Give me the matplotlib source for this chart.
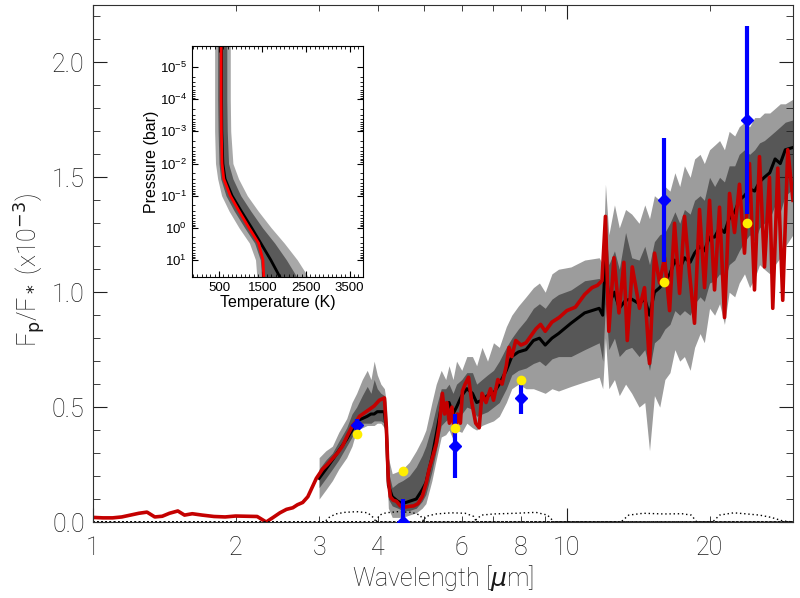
import numpy as np
import matplotlib
matplotlib.use('Agg')
import matplotlib.pyplot as plt
from matplotlib.ticker import FixedLocator, NullFormatter, MultipleLocator, LogFormatterSciNotation

# ---- best-fit model spectrum (red) ----
red_wl = [1.00, 1.05, 1.10, 1.15, 1.20, 1.25, 1.30, 1.35, 1.40, 1.45, 1.51, 1.56, 1.62, 1.70,
          1.80, 1.90, 2.00, 2.10, 2.22, 2.27, 2.32, 2.40, 2.48, 2.56, 2.64, 2.70, 2.77, 2.84,
          2.90, 2.96, 3.05, 3.12, 3.20, 3.28, 3.36, 3.45, 3.53, 3.60, 3.65, 3.74, 3.83, 3.92,
          4.02, 4.12, 4.16, 4.20, 4.24, 4.30, 4.37, 4.45, 4.55, 4.65, 4.75, 4.85, 4.95, 5.05,
          5.12, 5.22, 5.30, 5.38, 5.46, 5.52, 5.58, 5.65, 5.72, 5.80, 5.88, 5.96, 6.02, 6.10,
          6.20, 6.30, 6.42, 6.53, 6.62, 6.75, 6.90, 7.00, 7.15, 7.30, 7.45, 7.55, 7.65, 7.80,
          8.00, 8.20, 8.40, 8.60, 8.80, 9.00, 9.30, 9.63, 10.0, 10.42, 10.9, 11.30, 11.60, 11.86,
          12.06, 12.26, 12.57, 12.88, 13.19, 13.41, 13.74, 14.23, 14.58, 14.94, 15.31, 15.69,
          16.07, 16.47, 16.87, 17.29, 17.71, 18.15, 18.59, 19.05, 19.52, 20.00, 20.49, 20.99,
          21.51, 22.04, 22.58, 23.13, 23.70, 24.28, 24.88, 25.49, 26.12, 26.76, 27.19, 27.86,
          28.54, 29.25, 30.0]
red_fp = [0.020, 0.018, 0.018, 0.022, 0.030, 0.038, 0.043, 0.022, 0.025, 0.038, 0.048, 0.030,
          0.036, 0.030, 0.024, 0.022, 0.026, 0.025, 0.024, 0.012, 0.000, 0.020, 0.040, 0.055,
          0.062, 0.075, 0.085, 0.110, 0.150, 0.190, 0.230, 0.250, 0.275, 0.300, 0.330, 0.380,
          0.420, 0.440, 0.460, 0.475, 0.490, 0.505, 0.530, 0.540, 0.410, 0.180, 0.110, 0.095,
          0.090, 0.070, 0.065, 0.068, 0.070, 0.080, 0.110, 0.170, 0.230, 0.290, 0.340, 0.420,
          0.560, 0.470, 0.520, 0.430, 0.500, 0.370, 0.470, 0.430, 0.570, 0.600, 0.630, 0.520,
          0.430, 0.410, 0.560, 0.520, 0.580, 0.530, 0.620, 0.600, 0.680, 0.760, 0.720, 0.790,
          0.770, 0.780, 0.810, 0.840, 0.860, 0.830, 0.870, 0.890, 0.920, 0.935, 0.990, 1.020,
          1.030, 1.050, 1.330, 0.830, 1.150, 0.910, 1.130, 0.790, 1.110, 0.930, 1.020, 0.690,
          1.170, 1.040, 1.150, 0.920, 1.300, 0.995, 1.330, 1.080, 0.865, 1.360, 1.020, 1.400,
          1.010, 1.370, 0.890, 1.430, 1.260, 1.470, 1.170, 1.560, 1.010, 1.590, 1.110, 1.500,
          0.930, 1.540, 0.965, 1.620, 1.400]

# ---- retrieval median and 1/2 sigma envelopes ----
band_wl = [3.00, 3.10, 3.20, 3.30, 3.43, 3.52, 3.60, 3.70, 3.79, 3.86, 3.92, 3.98, 4.05, 4.12,
           4.16, 4.20, 4.28, 4.40, 4.50, 4.65, 4.81, 4.95, 5.04, 5.19, 5.30, 5.43, 5.55, 5.64,
           5.75, 5.85, 6.00, 6.15, 6.32, 6.45, 6.62, 6.80, 7.00, 7.20, 7.45, 7.65, 7.90, 8.20,
           8.50, 8.75, 9.00, 9.30, 9.60, 10.2, 10.9, 11.7, 11.9, 12.06, 12.26, 12.6, 12.9, 13.3,
           13.7, 14.2, 14.6, 14.94, 15.3, 15.7, 16.1, 16.5, 16.9, 17.3, 17.7, 18.2, 18.6, 19.1,
           19.5, 20.0, 20.5, 21.0, 21.5, 22.0, 22.6, 23.1, 23.7, 24.3, 24.9, 25.5, 26.1, 26.8,
           27.5, 28.2, 28.9, 30.0]
med = [0.19, 0.23, 0.27, 0.31, 0.36, 0.40, 0.44, 0.45, 0.46, 0.47, 0.47, 0.48, 0.48, 0.48,
       0.40, 0.16, 0.11, 0.09, 0.08, 0.09, 0.10, 0.14, 0.17, 0.28, 0.38, 0.50, 0.48, 0.52,
       0.47, 0.50, 0.55, 0.58, 0.56, 0.52, 0.53, 0.55, 0.56, 0.60, 0.66, 0.72, 0.74, 0.75,
       0.79, 0.80, 0.77, 0.80, 0.82, 0.865, 0.91, 0.93, 0.90, 1.15, 0.95, 1.00, 0.93, 0.965,
       0.97, 0.95, 0.97, 0.90, 1.00, 1.02, 1.05, 1.08, 1.14, 1.10, 1.15, 1.13, 1.17, 1.20,
       1.18, 1.24, 1.24, 1.28, 1.26, 1.32, 1.35, 1.40, 1.42, 1.45, 1.44, 1.48, 1.50, 1.52,
       1.58, 1.56, 1.62, 1.63]
lo1 = [0.15, 0.19, 0.23, 0.27, 0.33, 0.37, 0.43, 0.43, 0.43, 0.43, 0.44, 0.44, 0.44, 0.43,
       0.33, 0.10, 0.07, 0.06, 0.05, 0.05, 0.06, 0.09, 0.12, 0.22, 0.31, 0.42, 0.44, 0.45,
       0.42, 0.44, 0.47, 0.50, 0.49, 0.46, 0.47, 0.48, 0.50, 0.52, 0.58, 0.64, 0.66, 0.67,
       0.69, 0.70, 0.68, 0.71, 0.72, 0.72, 0.75, 0.78, 0.70, 0.95, 0.75, 0.80, 0.72, 0.75,
       0.76, 0.72, 0.75, 0.66, 0.78, 0.80, 0.84, 0.86, 0.92, 0.90, 0.92, 0.90, 0.95, 0.98,
       0.96, 1.04, 1.05, 1.08, 1.05, 1.12, 1.14, 1.18, 1.22, 1.25, 1.22, 1.28, 1.30, 1.32,
       1.38, 1.35, 1.42, 1.45]
hi1 = [0.23, 0.27, 0.30, 0.35, 0.41, 0.47, 0.50, 0.55, 0.59, 0.56, 0.62, 0.58, 0.56, 0.55,
       0.48, 0.22, 0.15, 0.17, 0.18, 0.20, 0.24, 0.29, 0.33, 0.42, 0.50, 0.58, 0.58, 0.60,
       0.56, 0.60, 0.62, 0.65, 0.65, 0.60, 0.62, 0.64, 0.66, 0.70, 0.76, 0.80, 0.84, 0.88,
       0.93, 0.95, 0.93, 0.97, 0.99, 1.01, 1.05, 1.06, 1.04, 1.30, 1.12, 1.18, 1.10, 1.26,
       1.15, 1.14, 1.20, 1.12, 1.22, 1.25, 1.26, 1.30, 1.35, 1.30, 1.36, 1.34, 1.40, 1.42,
       1.40, 1.50, 1.46, 1.50, 1.48, 1.55, 1.55, 1.60, 1.62, 1.60, 1.62, 1.65, 1.66, 1.68,
       1.70, 1.72, 1.74, 1.75]
lo2 = [0.10, 0.14, 0.18, 0.23, 0.28, 0.33, 0.40, 0.41, 0.42, 0.42, 0.42, 0.43, 0.43, 0.41,
       0.28, 0.06, 0.02, 0.02, 0.02, 0.03, 0.04, 0.06, 0.08, 0.18, 0.27, 0.37, 0.38, 0.40,
       0.36, 0.40, 0.39, 0.43, 0.41, 0.40, 0.42, 0.43, 0.44, 0.46, 0.52, 0.58, 0.60, 0.58,
       0.58, 0.57, 0.56, 0.58, 0.57, 0.59, 0.61, 0.63, 0.58, 0.80, 0.58, 0.62, 0.55, 0.60,
       0.56, 0.50, 0.52, 0.31, 0.55, 0.50, 0.62, 0.65, 0.75, 0.70, 0.72, 0.66, 0.76, 0.82,
       0.78, 0.93, 0.90, 0.95, 0.86, 1.00, 0.98, 1.04, 1.08, 1.02, 1.06, 1.12, 1.10, 1.08,
       1.12, 1.15, 1.20, 1.25]
hi2 = [0.28, 0.31, 0.33, 0.39, 0.45, 0.52, 0.56, 0.62, 0.66, 0.62, 0.70, 0.64, 0.60, 0.58,
       0.52, 0.28, 0.21, 0.22, 0.23, 0.26, 0.31, 0.36, 0.40, 0.52, 0.60, 0.66, 0.62, 0.68,
       0.62, 0.70, 0.66, 0.72, 0.72, 0.68, 0.76, 0.70, 0.78, 0.76, 0.85, 0.90, 0.94, 0.98,
       1.02, 1.04, 1.00, 1.08, 1.10, 1.11, 1.14, 1.15, 1.12, 1.47, 1.25, 1.38, 1.28, 1.36,
       1.34, 1.30, 1.38, 1.32, 1.42, 1.40, 1.46, 1.44, 1.52, 1.46, 1.55, 1.50, 1.58, 1.60,
       1.56, 1.62, 1.64, 1.66, 1.62, 1.70, 1.68, 1.72, 1.74, 1.72, 1.76, 1.76, 1.78, 1.78,
       1.80, 1.82, 1.82, 1.84]

# ---- Spitzer eclipse depths and binned model ----
obs_wl = [3.6, 4.5, 5.8, 8.0, 16.0, 24.0]
obs_fp = [0.42, 0.00, 0.33, 0.54, 1.40, 1.75]
obs_err = [0.03, 0.10, 0.14, 0.07, 0.27, 0.41]
model_bin = [0.385, 0.22, 0.41, 0.62, 1.045, 1.30]

# ---- filter transmission curves (dotted) ----
filters = {
    'irac1': ([1.0, 3.08, 3.15, 3.25, 3.40, 3.60, 3.80, 3.90, 3.96, 30.0],
              [0.0, 0.0, 0.02, 0.035, 0.042, 0.045, 0.040, 0.020, 0.0, 0.0]),
    'irac2': ([1.0, 3.95, 4.02, 4.15, 4.40, 4.70, 4.90, 5.00, 30.0],
              [0.0, 0.0, 0.03, 0.040, 0.045, 0.042, 0.030, 0.0, 0.0]),
    'irac3': ([1.0, 4.95, 5.05, 5.30, 5.70, 6.10, 6.35, 6.45, 30.0],
              [0.0, 0.0, 0.025, 0.035, 0.040, 0.038, 0.025, 0.0, 0.0]),
    'irac4': ([1.0, 6.35, 6.60, 7.00, 7.80, 8.60, 9.10, 9.40, 30.0],
              [0.0, 0.0, 0.030, 0.035, 0.038, 0.042, 0.030, 0.0, 0.0]),
    'irs16': ([1.0, 13.0, 13.5, 14.5, 16.0, 17.5, 18.3, 18.8, 30.0],
              [0.0, 0.0, 0.030, 0.038, 0.035, 0.036, 0.030, 0.0, 0.0]),
    'mips24': ([1.0, 20.3, 21.0, 22.5, 24.0, 25.5, 27.0, 28.5, 30.0],
               [0.0, 0.0, 0.030, 0.040, 0.035, 0.030, 0.020, 0.005, 0.0]),
}

# ---- temperature-pressure profile (inset) ----
tp_p = [2.2e-6, 1e-5, 1e-4, 1e-3, 1e-2, 3e-2, 0.1, 0.3, 1.0, 3.0, 10.0, 34.0]
tp_red = [550, 550, 550, 555, 570, 610, 760, 960, 1190, 1410, 1510, 1530]
tp_med = [560, 560, 560, 565, 590, 640, 800, 1010, 1250, 1460, 1690, 1900]
tp_lo2 = [400, 400, 400, 400, 420, 470, 560, 730, 960, 1200, 1340, 1370]
tp_hi2 = [760, 760, 760, 770, 820, 950, 1150, 1400, 1700, 2000, 2300, 2550]
tp_lo1 = [470, 470, 470, 480, 500, 540, 660, 850, 1090, 1320, 1450, 1480]
tp_hi1 = [680, 680, 680, 690, 720, 820, 1000, 1230, 1500, 1780, 2050, 2290]
p_ticks = [1e-5, 1e-4, 1e-3, 1e-2, 1e-1, 1e0, 1e1]
t_ticks = [500, 1500, 2500, 3500]

LIGHT = '#9c9c9c'
DARK = '#575757'
RED = '#c40000'
TXT = '#1a1a1a'

plt.rcParams['font.family'] = ['Roboto', 'DejaVu Sans']
plt.rcParams['mathtext.fontset'] = 'dejavusans'

fig = plt.figure(figsize=(8.0, 5.98), dpi=100)
ax = fig.add_axes([93 / 800, 76 / 598, 700 / 800, 517 / 598])

ax.fill_between(band_wl, lo2, hi2, color=LIGHT, lw=0)
ax.fill_between(band_wl, lo1, hi1, color=DARK, lw=0)
ax.plot(band_wl, med, color='black', lw=2.2)
ax.plot(red_wl, red_fp, color=RED, lw=2.6)

for name, (fw, fr) in filters.items():
    ax.plot(fw, fr, color='black', ls=(0, (1, 2)), lw=1.0)

ax.errorbar(obs_wl, obs_fp, yerr=obs_err, fmt='D', color='#0000ff', ms=6,
            elinewidth=3, capsize=0, zorder=5)
ax.plot(obs_wl, model_bin, 'o', color='#ffee00', ms=7, mec='none', zorder=6)

ax.set_xscale('log')
ax.set_xlim(1, 30)
ax.set_ylim(0, 2.25)

ax.xaxis.set_major_locator(FixedLocator([1, 10]))
ax.xaxis.set_minor_locator(FixedLocator([2, 3, 4, 5, 6, 7, 8, 9, 20, 30]))
ax.xaxis.set_major_formatter(NullFormatter())
ax.xaxis.set_minor_formatter(NullFormatter())
for v in [1, 2, 3, 4, 6, 8, 10, 20]:
    ax.text(v, -0.050, str(v), transform=ax.get_xaxis_transform(), ha='center',
            va='center', fontsize=18, fontweight='light', color=TXT)

ax.yaxis.set_major_locator(MultipleLocator(0.5))
ax.yaxis.set_minor_locator(MultipleLocator(0.1))
ax.yaxis.set_major_formatter(plt.FuncFormatter(lambda v, p: f'{v:.1f}'))
ax.tick_params(axis='both', which='both', direction='in', top=True, right=True,
               color='#202020')
ax.tick_params(axis='y', which='major', length=10, labelsize=18, pad=6)
ax.tick_params(axis='y', which='minor', length=5)
ax.tick_params(axis='x', which='major', length=10)
ax.tick_params(axis='x', which='minor', length=4)
for lbl in ax.get_yticklabels():
    lbl.set_fontweight('light')
    lbl.set_color(TXT)
for s in ax.spines.values():
    s.set_color('#303030')

ax.text(0.5, -0.108, r'Wavelength [$\mu$m]', transform=ax.transAxes, ha='center',
        va='center', fontsize=18, fontweight='light', color=TXT)
ax.text(-0.09, 0.487, r'F$_{\mathrm{p}}$/F$_*$ (x10$^{-3}$)', transform=ax.transAxes,
        ha='center', va='center', rotation=90, fontsize=18, fontweight='light', color=TXT)

# ---- inset ----
ins = fig.add_axes([192 / 800, 321 / 598, 171 / 800, 231 / 598])
ins.fill_betweenx(tp_p, tp_lo2, tp_hi2, color='#a8a8a8', lw=0)
ins.fill_betweenx(tp_p, tp_lo1, tp_hi1, color='#5a5a5a', lw=0)
ins.plot(tp_med, tp_p, color='black', lw=2)
ins.plot(tp_red, tp_p, color='#ff0000', lw=2)
ins.set_yscale('log')
ins.set_ylim(34, 2.2e-6)
ins.set_xlim(-120, 3810)
ins.xaxis.set_major_locator(FixedLocator(t_ticks))
ins.xaxis.set_minor_locator(MultipleLocator(100))
ins.yaxis.set_major_locator(FixedLocator(p_ticks))
ins.yaxis.set_major_formatter(LogFormatterSciNotation())
ins.yaxis.set_minor_locator(FixedLocator([m * p for p in p_ticks[:-1] for m in range(2, 10)]))
ins.yaxis.set_minor_formatter(NullFormatter())
ins.tick_params(axis='both', which='both', direction='in', top=True, right=True,
                labelsize=9.5)
ins.tick_params(which='major', length=4)
ins.tick_params(which='minor', length=2)
ins.set_xlabel('Temperature (K)', fontsize=11.5, family='Liberation Sans', labelpad=1)
ins.set_ylabel('Pressure (bar)', fontsize=11.5, family='Liberation Sans', labelpad=1)
for lbl in ins.get_xticklabels() + ins.get_yticklabels():
    lbl.set_family('Liberation Sans')

fig.savefig('out.png', dpi=100)
